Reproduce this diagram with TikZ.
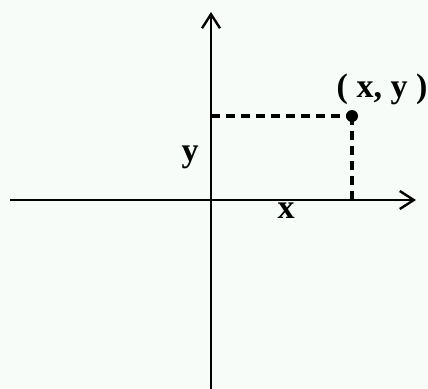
\documentclass[tikz,border=0pt]{standalone}
\usepackage{fontspec}
\setmainfont{Liberation Serif}
\usetikzlibrary{positioning}
\usetikzlibrary{arrows.meta}
\definecolor{paper}{RGB}{247,252,249}
\tikzset{
  % axes with open arrow heads
  axis/.style={line width=1.2pt, -{Straight Barb[length=7pt,width=9pt]}},
  % dashed guide lines to the point
  guide/.style={line width=1.7pt, dash pattern=on 4.5pt off 3pt},
  lbl/.style={font=\fontsize{17}{20}\selectfont\bfseries},
  dot/.style={circle, fill, inner sep=0pt, minimum size=6pt},
}
\begin{document}
\begin{tikzpicture}[x=0.5pt, y=-0.5pt]
  \fill[paper] (0,0) rectangle (428,388);
  \useasboundingbox (0,0) rectangle (428,388);

  \coordinate (west) at (10,200);
  \coordinate (east) at (416,200);
  \coordinate (south) at (211,390);
  \coordinate (north) at (211,12);
  \coordinate (yfoot) at (211,116);
  \coordinate (xfoot) at (352,200);

  \node[dot] (p) at (352,116) {};

  \node[lbl] (pl) at (382,89) {( x, y )};
  \node[lbl] (yl) at (190,157) {y};
  \node[lbl] (xl) at (286,211) {x};

  \draw[axis] (west) -- (east);
  \draw[axis] (south) -- (north);
  \draw[guide] (yfoot) -- (p.center);
  \draw[guide] (p.center) -- (xfoot);
\end{tikzpicture}
\end{document}
